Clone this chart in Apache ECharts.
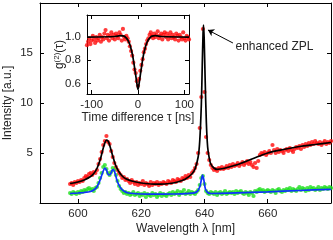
<!DOCTYPE html>
<html><head><meta charset="utf-8">
<script src="https://cdn.jsdelivr.net/npm/echarts@6/dist/echarts.min.js"></script>
<style>html,body{margin:0;padding:0;background:#fff}#c{width:333px;height:240px}</style>
</head><body><div id="c"></div>
<script>
const wavelength = [
597.5,598,598.5,599,599.5,600,
600.5,601,601.5,602,602.5,603,
603.5,604,604.5,605,605.5,606,
606.5,607,607.5,608,608.5,609,
609.5,610,610.5,611,611.5,612,
612.5,613,613.5,614,614.5,615,
615.5,616,616.5,617,617.5,618,
618.5,619,619.5,620,620.5,621,
621.5,622,622.5,623,623.5,624,
624.5,625,625.5,626,626.5,627,
627.5,628,628.5,629,629.5,630,
630.5,631,631.5,632,632.5,633,
633.5,634,634.5,635,635.5,636,
636.5,637,637.5,638,638.5,639,
639.5,640,640.5,641,641.5,642,
642.5,643,643.5,644,644.5,645,
645.5,646,646.5,647,647.5,648,
648.5,649,649.5,650,650.5,651,
651.5,652,652.5,653,653.5,654,
654.5,655,655.5,656,656.5,657,
657.5,658,658.5,659,659.5,660,
660.5,661,661.5,662,662.5,663,
663.5,664,664.5,665,665.5,666,
666.5,667,667.5,668,668.5,669,
669.5,670,670.5,671,671.5,672,
672.5,673,673.5,674,674.5,675,
675.5,676,676.5,677,677.5,678,
678.5,679,679.5,680];
const redIntensity = [
1.9,2.0,1.8,2.1,2.0,2.2,
2.1,2.3,2.2,2.5,2.7,2.6,
2.9,3.0,2.8,3.1,3.0,3.3,
3.9,4.4,5.1,5.8,6.2,6.7,
6.1,5.9,5.2,4.6,4.0,3.6,
3.3,3.0,2.8,2.5,2.6,2.3,
2.4,2.2,2.0,2.3,2.1,1.9,
2.1,1.8,2.0,1.9,2.2,1.8,
2.0,1.9,1.7,2.1,1.8,2.0,
1.9,2.1,1.8,2.0,1.9,2.1,
2.0,1.9,2.2,2.1,2.0,2.3,
2.2,2.1,2.4,2.3,2.2,2.5,
2.4,2.7,2.5,2.8,2.6,3.0,
3.2,3.5,3.9,5.0,7.5,10.6,
17.4,11.1,6.6,5.0,4.3,3.8,
3.5,3.3,3.4,3.2,3.5,3.4,
3.6,3.4,3.5,3.7,3.5,3.8,
3.6,3.9,3.7,3.8,4.0,3.7,
3.9,4.1,3.8,4.0,4.2,3.9,
4.1,3.8,3.6,4.0,3.5,4.2,
4.8,5.0,4.9,5.1,4.8,5.0,
5.2,5.0,5.8,5.3,5.0,5.4,
5.1,5.3,5.2,5.0,5.3,5.4,
5.2,5.5,5.3,5.1,5.4,5.6,
5.5,5.7,5.4,5.8,5.6,5.9,
5.7,6.0,5.8,6.1,5.9,6.2,
6.0,5.9,6.1,5.8,6.0,6.2,
5.9,6.1,6.0,6.2];
const greenIntensity = [
1.0,0.9,1.1,1.0,0.9,1.1,
1.0,1.2,1.1,1.3,1.2,1.4,
1.5,1.3,1.4,1.2,1.5,1.6,
2.0,2.5,3.0,3.6,3.8,3.4,
3.0,2.8,3.1,3.5,3.3,2.8,
2.2,1.7,1.4,1.2,1.0,1.1,
0.9,1.0,0.8,0.9,1.1,0.8,
0.9,1.0,0.7,0.9,0.8,1.0,
0.6,0.9,0.8,0.7,1.0,0.8,
0.9,0.6,0.8,1.0,0.7,0.9,
0.8,0.7,0.9,1.0,0.8,1.1,
0.9,1.0,1.2,0.8,1.1,1.0,
1.3,0.9,1.0,1.2,0.9,1.1,
1.0,0.9,1.1,1.3,1.8,2.5,
2.7,1.9,1.2,1.0,0.9,1.1,
1.0,0.9,1.1,0.8,1.0,1.1,
0.9,1.0,1.2,0.9,1.0,1.1,
1.0,1.1,0.9,1.2,1.0,1.1,
1.2,1.0,0.9,1.1,1.0,0.8,
1.1,1.0,0.7,1.2,1.1,1.3,
1.4,1.2,1.3,1.1,1.2,1.3,
1.2,1.1,1.3,1.2,1.0,1.3,
1.4,1.2,1.1,1.3,1.2,1.4,
1.3,1.5,1.2,1.4,1.3,1.2,
1.4,1.6,1.3,1.5,1.4,1.2,
1.5,1.3,1.6,1.4,1.5,1.3,
1.4,1.6,1.3,1.5,1.4,1.6,
1.5,1.4,1.6,1.5];
const redFit = [
[597.5,1.95],[600,2.1],[602,2.3],[604,2.65],[605,2.95],[606,3.45],[607,4.3],[608,5.5],[608.5,6.0],[609,6.3],[609.5,6.2],[610,5.8],[611,4.7],[612,3.7],[613,3.1],[614,2.7],[615,2.45],[617,2.2],[620,2.0],[623,1.9],[626,1.88],[629,1.95],[632,2.15],[634,2.4],[636,2.9],[637,3.4],[638,4.6],[638.5,6.2],[639,9.8],[639.3,13.8],[639.55,17.0],[639.7,17.8],[639.9,16.5],[640.2,12.5],[640.6,8.0],[641,5.6],[641.5,4.5],[642,3.9],[643,3.5],[644,3.37],[646,3.45],[650,3.8],[655,4.4],[660,5.0],[665,5.35],[670,5.65],[675,5.85],[680,6.05]];
const greenFit = [
[597.5,0.95],[600,1.0],[602,1.05],[604,1.15],[605,1.3],[606,1.6],[607,2.3],[608,3.2],[608.5,3.5],[609,3.3],[609.7,2.8],[610.2,2.85],[610.8,3.25],[611.2,3.35],[611.7,3.0],[612.5,2.1],[613.5,1.5],[614.5,1.2],[616,1.0],[620,0.9],[625,0.88],[630,0.9],[634,0.93],[636,0.98],[637.5,1.1],[638.5,1.6],[639,2.3],[639.4,2.8],[639.8,2.3],[640.3,1.4],[641,1.05],[642,0.95],[645,0.97],[650,1.02],[660,1.12],[670,1.25],[680,1.37]];
const tau = [
-110,-107.5,-105,-102.5,-100,-97.5,-95,-92.5,-90,-87.5,-85,-82.5,-80,-77.5,-75,-72.5,-70,-67.5,-65,-62.5,-60,-57.5,-55,-52.5,-50,-47.5,-45,-42.5,-40,-37.5,-35,-32.5,-30,-27.5,-25,-22.5,-20,-17.5,-15,-12.5,-10,-7.5,-5,-2.5,
0,
2.5,5,7.5,10,12.5,15,17.5,20,22.5,25,27.5,30,32.5,35,37.5,40,42.5,45,47.5,50,52.5,55,57.5,60,62.5,65,67.5,70,72.5,75,77.5,80,82.5,85,87.5,90,92.5,95,97.5,100,102.5,105,107.5,110];
const g2 = [
0.93,0.96,0.99,0.94,0.97,1.01,0.98,0.95,1.00,0.97,0.99,1.02,0.96,1.00,0.98,1.03,1.06,0.99,1.02,0.97,1.01,1.04,0.99,1.02,0.98,1.03,1.01,0.99,1.04,1.02,0.97,1.07,1.00,0.98,1.01,0.99,0.96,0.92,0.88,0.84,0.78,0.72,0.69,0.62,
0.58,
0.64,0.71,0.76,0.81,0.87,0.90,0.94,0.97,0.99,1.02,1.04,1.01,0.99,1.03,1.00,1.02,1.05,0.99,1.01,1.03,0.98,1.02,1.04,1.00,1.03,0.98,1.01,1.04,0.99,1.02,1.00,0.98,1.03,1.01,0.97,1.02,1.00,0.98,1.04,0.99,0.97,1.01,1.00,0.98];
const g2Fit = [
[-110,1.0],[-50,1.005],[-38,1.012],[-30,1.008],[-26,0.995],[-22,0.975],[-18,0.94],[-15,0.9],[-12,0.85],[-9,0.78],[-6,0.7],[-4,0.645],[-2,0.59],[0,0.55],[2,0.59],[4,0.645],[6,0.7],[9,0.78],[12,0.85],[15,0.9],[18,0.94],[22,0.975],[26,0.995],[30,1.008],[38,1.012],[50,1.005],[110,1.0]];
const xTicks = [600,620,640,660];
const yTicks = [5,10,15];
const tauTicks = [-100,0,100];
const g2Ticks = [0.6,0.8,1.0];
const arrowTail = [649.0,16.0];
const arrowHead = [641.1,17.3];
const annoPos = [649.8,15.6];

const FONT = "'Liberation Sans', Arial, sans-serif";
const TXT = '#262626';
function ax(o) {
  return Object.assign({
    type: 'value',
    nameMoveOverlap: false,
    axisLine: {show: true, onZero: false, lineStyle: {color: '#000', width: 1}},
    axisTick: {show: true, inside: true, length: 4, lineStyle: {color: '#000'}, customValues: o.ticks},
    axisLabel: o.labels ? {show: true, customValues: o.ticks, fontSize: 11.5, fontFamily: FONT, color: TXT, margin: o.margin || 6,
      formatter: o.fmt} : {show: false},
    splitLine: {show: false},
    nameTextStyle: {fontSize: 12, fontFamily: FONT, color: TXT}
  }, o.extra);
}
const chart = echarts.init(document.getElementById('c'), null, {renderer: 'canvas'});
chart.setOption({
  animation: false,
  backgroundColor: '#fff',
  grid: [
    {left: 40, top: 3, width: 291, height: 200, outerBoundsMode: 'none', containLabel: false},
    {left: 87, top: 15, width: 102, height: 79, outerBoundsMode: 'none', containLabel: false, show: true, backgroundColor: '#fff', borderWidth: 0, z: 5}
  ],
  xAxis: [
    ax({ticks: xTicks, labels: true, margin: 5, extra: {gridIndex: 0, min: 588, max: 680, position: 'bottom',
      name: 'Wavelength λ [nm]', nameLocation: 'middle', nameGap: 20}}),
    ax({ticks: xTicks, labels: false, extra: {gridIndex: 0, min: 588, max: 680, position: 'top'}}),
    ax({ticks: tauTicks, labels: true, margin: 5, extra: {gridIndex: 1, min: -110, max: 110, position: 'bottom',
      name: 'Time difference τ [ns]', nameLocation: 'middle', nameGap: 18, z: 6}}),
    ax({ticks: tauTicks, labels: false, extra: {gridIndex: 1, min: -110, max: 110, position: 'top', z: 6}})
  ],
  yAxis: [
    ax({ticks: yTicks, labels: true, margin: 7, extra: {gridIndex: 0, min: 0, max: 20, position: 'left',
      name: 'Intensity [a.u.]', nameLocation: 'middle', nameGap: 26}}),
    ax({ticks: yTicks, labels: false, extra: {gridIndex: 0, min: 0, max: 20, position: 'right'}}),
    ax({ticks: g2Ticks, labels: true, margin: 6, fmt: v => v.toFixed(1), extra: {gridIndex: 1, min: 0.51, max: 1.19, position: 'left',
      name: '{a|g}{b|(2)}{a|(τ)}', nameLocation: 'middle', nameGap: 20, z: 6,
      nameTextStyle: {fontSize: 12, fontFamily: FONT, color: TXT,
        rich: {a: {fontSize: 12, fontFamily: FONT, color: TXT}, b: {fontSize: 8, fontFamily: FONT, color: TXT, verticalAlign: 'top', padding: [0,0,6,0]}}}}}),
    ax({ticks: g2Ticks, labels: false, extra: {gridIndex: 1, min: 0.51, max: 1.19, position: 'right', z: 6}})
  ],
  series: [
    {type: 'scatter', xAxisIndex: 0, yAxisIndex: 0, symbolSize: 4.2, itemStyle: {color: '#ff0a0a'},
      data: wavelength.map((w, i) => [w, redIntensity[i]])},
    {type: 'scatter', xAxisIndex: 0, yAxisIndex: 0, symbolSize: 4.2, itemStyle: {color: '#22e022'},
      data: wavelength.map((w, i) => [w, greenIntensity[i]])},
    {type: 'line', xAxisIndex: 0, yAxisIndex: 0, data: redFit, showSymbol: false, smooth: 0.3,
      lineStyle: {color: '#000', width: 1.7}, itemStyle: {color: '#000'},
      markLine: {silent: true, symbol: ['none', 'arrow'], symbolSize: 6, label: {show: false},
        lineStyle: {color: '#000', width: 1, type: 'solid'},
        data: [[{coord: arrowTail}, {coord: arrowHead}]]},
      markPoint: {silent: true, data: [{coord: annoPos, symbol: 'circle', symbolSize: 0,
        label: {show: true, position: 'right', distance: 0, formatter: 'enhanced ZPL', fontSize: 12, fontFamily: FONT, color: TXT}}]}},
    {type: 'line', xAxisIndex: 0, yAxisIndex: 0, data: greenFit, showSymbol: false, smooth: 0.3,
      lineStyle: {color: '#1030ff', width: 1.7}},
    {type: 'scatter', xAxisIndex: 2, yAxisIndex: 2, symbolSize: 4.2, itemStyle: {color: '#ff0a0a'}, z: 7,
      data: tau.map((t, i) => [t, g2[i]])},
    {type: 'line', xAxisIndex: 2, yAxisIndex: 2, data: g2Fit, showSymbol: false, smooth: 0.3, z: 8,
      lineStyle: {color: '#000', width: 1.7}}
  ]
});
</script></body></html>
